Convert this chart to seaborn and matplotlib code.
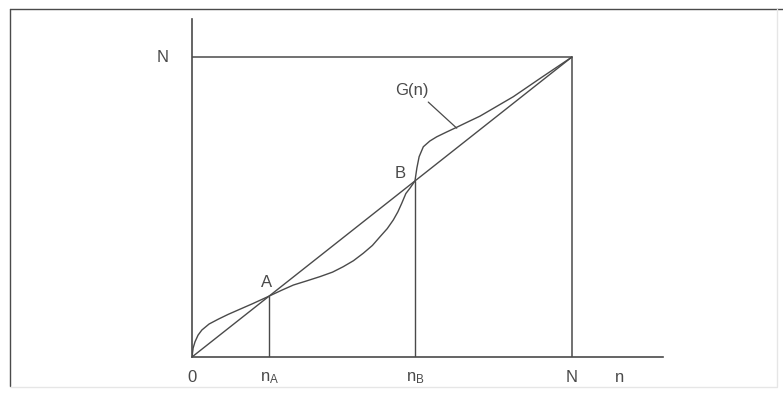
import numpy as np
import pandas as pd
import matplotlib
matplotlib.use("Agg")
import matplotlib.pyplot as plt
from matplotlib.lines import Line2D
import seaborn as sns

# values, N scaled to 1
N = 1.0
n_A = 0.203
n_B = 0.587
g_n = [0.0, 0.003, 0.008, 0.016, 0.026, 0.045, 0.069, 0.095, 0.122, 0.160, 0.203,
       0.235, 0.267, 0.300, 0.337, 0.370, 0.398, 0.425, 0.451, 0.475, 0.495, 0.514,
       0.530, 0.542, 0.552, 0.563, 0.575, 0.587, 0.592, 0.598, 0.609, 0.626, 0.644,
       0.670, 0.697, 0.728, 0.758, 0.800, 0.846, 0.920, 1.0]
g_val = [0.0, 0.030, 0.051, 0.073, 0.090, 0.110, 0.126, 0.142, 0.157, 0.178, 0.203,
         0.222, 0.240, 0.253, 0.268, 0.283, 0.301, 0.321, 0.346, 0.372, 0.401, 0.428,
         0.457, 0.484, 0.512, 0.545, 0.565, 0.587, 0.630, 0.668, 0.701, 0.720, 0.734,
         0.750, 0.766, 0.785, 0.803, 0.834, 0.868, 0.932, 1.0]
x_labels = ["0", "$\\mathregular{n_A}$", "$\\mathregular{n_B}$", "N"]
x_label_pos = [0.0, n_A, n_B, N]

sns.set_style("white")
plt.rcParams["font.family"] = ["Liberation Sans", "DejaVu Sans"]
plt.rcParams["mathtext.default"] = "regular"

col = "#4a4a4a"
fig = plt.figure(figsize=(7.83, 3.94), dpi=100)
ax = fig.add_axes([192 / 783, 37 / 394, 471 / 783, 338 / 394])

diag = pd.DataFrame({"n": [0.0, N], "y": [0.0, N]})
curve = pd.DataFrame({"n": g_n, "G": g_val})
sns.lineplot(data=diag, x="n", y="y", ax=ax, color=col, lw=1.0)
sns.lineplot(data=curve, x="n", y="G", ax=ax, color=col, lw=1.0, sort=False)

# box top and right, verticals at A and B
ax.plot([0, N], [N, N], color=col, lw=1.1)
ax.plot([N, N], [0, N], color=col, lw=1.1)
ax.plot([n_A, n_A], [0, n_A], color=col, lw=1.0)
ax.plot([n_B, n_B], [0, n_B], color=col, lw=1.0)

ax.set_xlim(0, 1.24)
ax.set_ylim(0, 1.127)
ax.set_xticks([])
ax.set_yticks([])
ax.set_xlabel("")
ax.set_ylabel("")
for s in ["top", "right"]:
    ax.spines[s].set_visible(False)
for s in ["left", "bottom"]:
    ax.spines[s].set_color(col)
    ax.spines[s].set_linewidth(1.2)

fs = 12
ax.text(-0.077, N, "N", fontsize=fs, color=col, ha="center", va="center")
for lab, xp in zip(x_labels, x_label_pos):
    ax.text(xp, -0.07, lab, fontsize=fs, color=col, ha="center", va="center")
ax.text(1.126, -0.07, "n", fontsize=fs, color=col, ha="center", va="center")
ax.text(0.196, 0.25, "A", fontsize=fs, color=col, ha="center", va="center")
ax.text(0.547, 0.612, "B", fontsize=fs, color=col, ha="center", va="center")
ax.text(0.578, 0.89, "G(n)", fontsize=fs, color=col, ha="center", va="center")
ax.plot([0.622, 0.697], [0.85, 0.763], color=col, lw=0.9)

for spine in ax.spines.values():
    spine.set_clip_on(False)

# outer frame of the scanned figure
fig.add_artist(Line2D([10 / 783, 10 / 783], [1 - 9 / 394, 1 - 386 / 394], color=col, lw=1.0))
fig.add_artist(Line2D([10 / 783, 1.0], [1 - 9 / 394, 1 - 9 / 394], color=col, lw=1.0))
fig.add_artist(Line2D([777 / 783, 777 / 783], [1 - 9 / 394, 1 - 386 / 394], color="#e6e6e6", lw=1.0))
fig.add_artist(Line2D([10 / 783, 777 / 783], [1 - 387 / 394, 1 - 387 / 394], color="#e6e6e6", lw=1.0))

fig.savefig("out.png", dpi=100)
